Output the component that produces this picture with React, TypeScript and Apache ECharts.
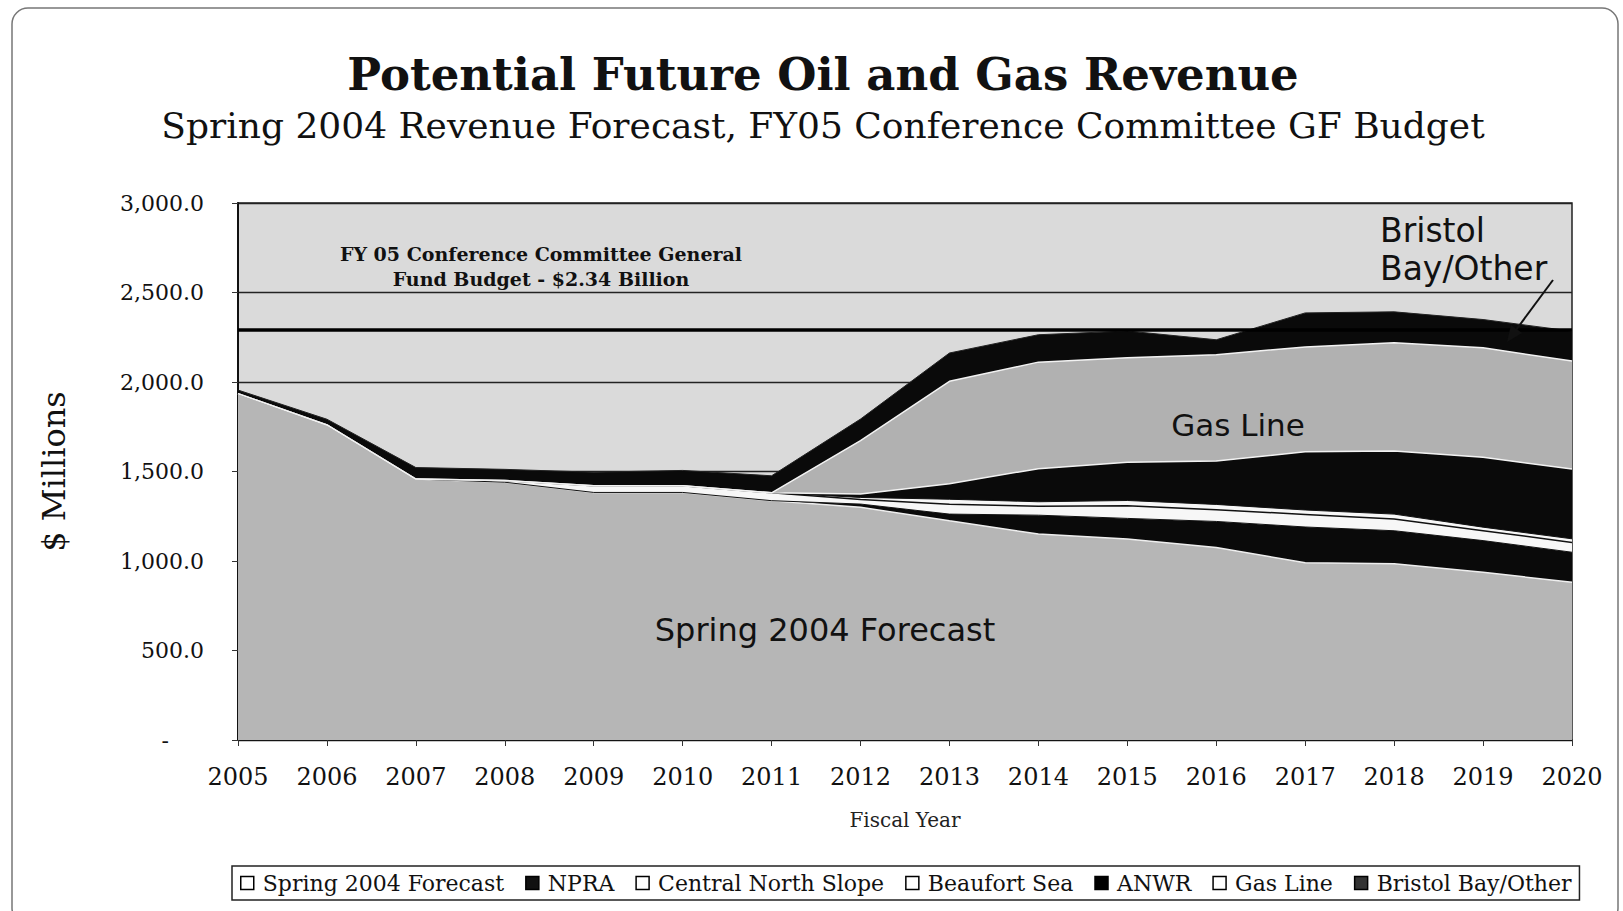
import React, { useEffect, useRef } from "react";
import * as echarts from "echarts";

const years = ["2005", "2006", "2007", "2008", "2009", "2010", "2011", "2012", "2013", "2014", "2015", "2016", "2017", "2018", "2019", "2020"];
const spring2004Forecast = [1935, 1760, 1458, 1440, 1383, 1383, 1337, 1300, 1225, 1151, 1123, 1076, 990, 984, 937, 881];
const npra = [0, 0, 0, 0, 0, 0, 0, 18, 37, 105, 115, 145, 200, 185, 177, 168];
const centralNorthSlope = [0, 0, 0, 10, 37, 37, 44, 25, 55, 50, 70, 65, 70, 65, 55, 55];
const beaufortSea = [0, 0, 0, 0, 0, 0, 0, 12, 28, 25, 30, 30, 25, 28, 20, 20];
const anwr = [0, 0, 0, 0, 0, 0, 0, 19, 87, 185, 213, 242, 325, 353, 390, 390];
const gasLine = [0, 0, 0, 0, 0, 0, 0, 299, 572, 595, 585, 594, 586, 604, 612, 603];
const bristolBayOther = [20, 32, 64, 62, 76, 86, 95, 120, 158, 153, 149, 84, 190, 173, 158, 167];
const budgetLine = 2290;

const seriesNames = ["Spring 2004 Forecast", "NPRA", "Central North Slope", "Beaufort Sea", "ANWR", "Gas Line", "Bristol Bay/Other"];
const seriesData = [spring2004Forecast, npra, centralNorthSlope, beaufortSea, anwr, gasLine, bristolBayOther];
const areaColors = ["#b6b6b6", "#0a0a0a", "#f7f7f7", "#f7f7f7", "#0a0a0a", "#b1b1b1", "#0a0a0a"];
const topLineColors = ["#eeeeee", "#111111", "#111111", "#111111", "#f2f2f2", "#f2f2f2", "#222222"];
const topLineWidths = [1.5, 1, 1.5, 1, 1.5, 1.5, 1];
const legendIconColors = ["#ffffff", "#111111", "#ffffff", "#ffffff", "#000000", "#ffffff", "#333333"];

const SERIF = "DejaVu Serif";
const SANS = "DejaVu Sans";

export default function App() {
  const ref = useRef<HTMLDivElement>(null);

  useEffect(() => {
    if (!ref.current) return;
    const chart = echarts.init(ref.current, null, { renderer: "svg" });

    const series: any[] = seriesNames.map((name, i) => {
      const s: any = {
        name,
        type: "line",
        stack: "total",
        data: seriesData[i],
        symbol: "none",
        showSymbol: false,
        smooth: false,
        itemStyle: { color: areaColors[i] },
        lineStyle: { color: topLineColors[i], width: topLineWidths[i] },
        areaStyle: { color: areaColors[i], opacity: 1 },
        emphasis: { disabled: true },
        z: 2,
      };
      if (i === seriesNames.length - 1) {
        s.markLine = {
          silent: true,
          symbol: ["none", "none"],
          label: { show: false },
          lineStyle: { color: "#000", width: 3.5, type: "solid" },
          data: [{ yAxis: budgetLine }],
        };
      }
      return s;
    });

    const option: any = {
      animation: false,
      backgroundColor: "#ffffff",
      grid: {
        left: 238,
        right: 51,
        top: 203,
        bottom: 171,
        show: true,
        backgroundColor: "#dadada",
        borderColor: "#222",
        borderWidth: 1.5,
      },
      xAxis: {
        type: "category",
        data: years,
        boundaryGap: false,
        name: "Fiscal Year",
        nameLocation: "middle",
        nameGap: 70,
        nameTextStyle: { fontFamily: SERIF, fontSize: 20, color: "#222" },
        axisLine: { show: true, lineStyle: { color: "#111", width: 1.5 } },
        axisTick: { show: true, length: 6, lineStyle: { color: "#333" } },
        axisLabel: { fontFamily: SERIF, fontSize: 24, color: "#111", margin: 25 },
        splitLine: { show: false },
      },
      yAxis: {
        type: "value",
        min: 0,
        max: 3000,
        interval: 500,
        name: "$ Millions",
        nameLocation: "middle",
        nameGap: 168,
        nameRotate: 90,
        nameTextStyle: { fontFamily: SERIF, fontSize: 32, color: "#111" },
        axisLine: { show: true, lineStyle: { color: "#111", width: 2 } },
        axisTick: { show: true, length: 6, lineStyle: { color: "#333" } },
        axisLabel: {
          fontFamily: SERIF,
          fontSize: 22,
          color: "#111",
          margin: 34,
          formatter: (v: number) =>
            v === 0
              ? "-\u00a0\u00a0\u00a0\u00a0\u00a0"
              : v.toLocaleString("en-US", { minimumFractionDigits: 1, maximumFractionDigits: 1 }),
        },
        splitLine: { show: true, lineStyle: { color: "#222", width: 1.3 } },
      },
      legend: {
        show: true,
        orient: "horizontal",
        left: 232,
        top: 866,
        padding: [6, 8],
        itemGap: 21,
        itemWidth: 13,
        itemHeight: 13,
        borderColor: "#222",
        borderWidth: 1.5,
        backgroundColor: "#ffffff",
        selectedMode: false,
        textStyle: { fontFamily: SERIF, fontSize: 22, color: "#111", padding: [0, 0, 0, 4] },
        data: seriesNames.map((name, i) => ({
          name,
          icon: "rect",
          itemStyle: { color: legendIconColors[i], borderColor: "#000", borderWidth: 1.5 },
        })),
      },
      series,
      graphic: [
        {
          type: "rect",
          silent: true,
          shape: { x: 12, y: 8, width: 1606, height: 916, r: 16 },
          style: { fill: "none", stroke: "#777", lineWidth: 1.5 },
          z: 0,
        },
        {
          type: "text",
          x: 823,
          y: 74,
          style: {
            text: "Potential Future Oil and Gas Revenue",
            fontFamily: SERIF,
            fontWeight: "bold",
            fontSize: 45,
            fill: "#111",
            textAlign: "center",
            textVerticalAlign: "middle",
          },
        },
        {
          type: "text",
          x: 823,
          y: 125,
          style: {
            text: "Spring 2004 Revenue Forecast, FY05 Conference Committee GF Budget",
            fontFamily: SERIF,
            fontSize: 36,
            fill: "#111",
            textAlign: "center",
            textVerticalAlign: "middle",
          },
        },
        {
          type: "text",
          x: 541,
          y: 254,
          z: 10,
          style: {
            text: "FY 05 Conference Committee General",
            fontFamily: SERIF,
            fontWeight: "bold",
            fontSize: 19,
            fill: "#111",
            textAlign: "center",
            textVerticalAlign: "middle",
          },
        },
        {
          type: "text",
          x: 541,
          y: 279,
          z: 10,
          style: {
            text: "Fund Budget - $2.34 Billion",
            fontFamily: SERIF,
            fontWeight: "bold",
            fontSize: 19,
            fill: "#111",
            textAlign: "center",
            textVerticalAlign: "middle",
          },
        },
        {
          type: "text",
          x: 1380,
          y: 230,
          z: 10,
          style: { text: "Bristol", fontFamily: SANS, fontSize: 33, fill: "#111", textAlign: "left", textVerticalAlign: "middle" },
        },
        {
          type: "text",
          x: 1380,
          y: 268,
          z: 10,
          style: { text: "Bay/Other", fontFamily: SANS, fontSize: 33, fill: "#111", textAlign: "left", textVerticalAlign: "middle" },
        },
        {
          type: "line",
          z: 10,
          shape: { x1: 1553, y1: 280, x2: 1513, y2: 334 },
          style: { stroke: "#111", lineWidth: 2 },
        },
        {
          type: "polygon",
          z: 10,
          shape: { points: [[1507, 342], [1522, 333], [1511, 325]] },
          style: { fill: "#111" },
        },
        {
          type: "text",
          x: 1238,
          y: 425,
          z: 10,
          style: { text: "Gas Line", fontFamily: SANS, fontSize: 31, fill: "#111", textAlign: "center", textVerticalAlign: "middle" },
        },
        {
          type: "text",
          x: 825,
          y: 630,
          z: 10,
          style: { text: "Spring 2004 Forecast", fontFamily: SANS, fontSize: 32, fill: "#111", textAlign: "center", textVerticalAlign: "middle" },
        },
      ],
    };

    chart.setOption(option);
    return () => {
      chart.dispose();
    };
  }, []);

  return (
    <div
      ref={ref}
      style={{ position: "fixed", left: 0, top: 0, width: "1623px", height: "911px", background: "#fff" }}
    />
  );
}
